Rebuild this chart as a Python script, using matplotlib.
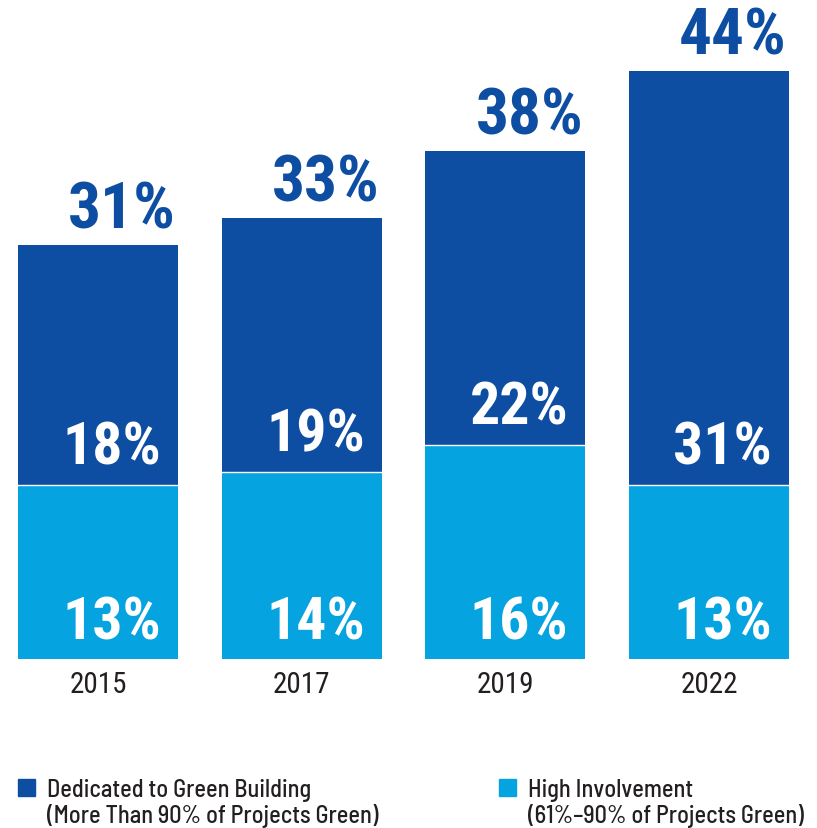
import matplotlib
matplotlib.use("Agg")
import matplotlib.pyplot as plt
from matplotlib.patches import Rectangle

years = ["2015", "2017", "2019", "2022"]
high = [13, 14, 16, 13]
dedicated = [18, 19, 22, 31]
totals = [31, 33, 38, 44]

dark = "#0D4EA2"
light = "#05A3DF"
num_font = "Roboto Condensed"
leg_font = "Barlow Semi Condensed"

fig = plt.figure(figsize=(8.17, 8.29), dpi=100)
ax = fig.add_axes([0, 169 / 829, 1, 660 / 829])
x = [0, 1, 2, 3]
w = 0.785
ax.bar(x, high, width=w, color=light, edgecolor="none")
ax.bar(x, dedicated, width=w, bottom=high, color=dark, edgecolor="none")
for i in x:
    ax.plot([i - w / 2, i + w / 2], [high[i], high[i]], color="white", lw=1)
ax.set_xlim(-0.481, 3.53)
ax.set_ylim(0, 49.4)
ax.axis("off")

for i in x:
    r = i + w / 2
    ax.text(r - 0.01, totals[i] + 1.3, f"{totals[i]}%", ha="right", va="baseline",
            fontsize=47, fontweight="bold", color=dark, family=num_font)
    ax.text(r - 0.083, high[i] + 1.6, f"{dedicated[i]}%", ha="right", va="baseline",
            fontsize=43, fontweight="bold", color="white", family=num_font)
    ax.text(r - 0.083, 1.5, f"{high[i]}%", ha="right", va="baseline",
            fontsize=43, fontweight="bold", color="white", family=num_font)
    ax.text(i, -2.5, years[i], ha="center", va="baseline", fontsize=21,
            color="#231F20", family=num_font)

# legend
legend = [
    (dark, 18, ["Dedicated to Green Building", "(More Than 90% of Projects Green)"]),
    (light, 499, ["High Involvement", "(61%–90% of Projects Green)"]),
]
for color, px, lines in legend:
    fig.patches.append(Rectangle((px / 817, 1 - 797 / 829), 17 / 817, 17 / 829,
                                 transform=fig.transFigure, color=color))
    for k, line in enumerate(lines):
        fig.text((px + 29) / 817, 1 - (797 + 26 * k) / 829, line, ha="left",
                 va="baseline", fontsize=17.5, fontweight="medium", color="#231F20",
                 family=leg_font)

fig.savefig("out.png", dpi=100)
